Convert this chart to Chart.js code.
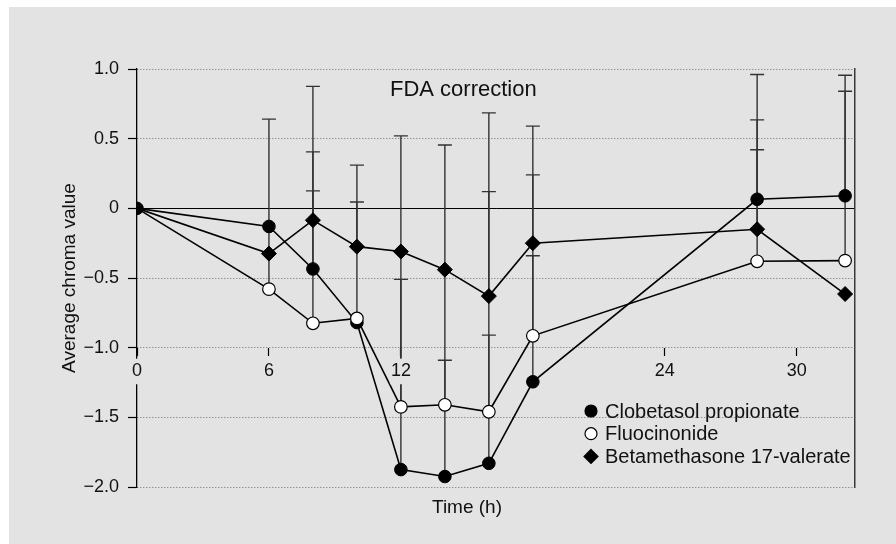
<!DOCTYPE html>
<html>
<head>
<meta charset="utf-8">
<script src="https://cdn.jsdelivr.net/npm/chart.js@4.4.1/dist/chart.umd.min.js"></script>
<style>
  body { margin: 0; background: #fff; }
  #wrap { position: absolute; left: 9px; top: 7px; width: 887px; height: 537px; background: #e3e3e3; }
</style>
</head>
<body>
<div id="wrap"><canvas id="chroma"></canvas></div>
<script>
var hours = [0, 6, 8, 10, 12, 14, 16, 18, 28.2, 32.2];
var seriesNames = ['Clobetasol propionate', 'Fluocinonide', 'Betamethasone 17-valerate'];
var clobetasol = [0, -0.13, -0.435, -0.82, -1.875, -1.925, -1.83, -1.245, 0.065, 0.09];
var fluocinonide = [0, -0.58, -0.825, -0.79, -1.425, -1.41, -1.46, -0.915, -0.38, -0.375];
var betamethasone = [0, -0.325, -0.085, -0.275, -0.31, -0.44, -0.63, -0.25, -0.15, -0.615];
// value at the cap of each error bar (null = no bar)
var clobetasolTop = [null, null, 0.875, 0.31, 0.52, 0.455, 0.685, 0.59, 0.96, 0.955];
var fluocinonideTop = [null, 0.64, 0.125, null, -0.51, -1.09, -0.91, -0.34, 0.42, 0.84];
var betamethasoneTop = [null, null, 0.405, 0.045, null, null, 0.12, 0.24, 0.635, null];
var xTicks = [0, 6, 12, 24, 30];
var xTickLabels = ['0', '6', '12', '24', '30'];
var yTicks = [-2, -1.5, -1, -0.5, 0, 0.5, 1];
var yTickLabels = ['\u22122.0', '\u22121.5', '\u22121.0', '\u22120.5', '0', '0.5', '1.0'];

var FONT = 'Liberation Sans';
var BG = '#e3e3e3';
var errorTops = [clobetasolTop, fluocinonideTop, betamethasoneTop];

function points(vals) {
  return hours.map(function (h, i) { return {x: h, y: vals[i]}; });
}

function marker(ctx, style, fill, x, y, r) {
  ctx.beginPath();
  if (style === 'rectRot') {
    ctx.moveTo(x, y - r); ctx.lineTo(x + r, y); ctx.lineTo(x, y + r); ctx.lineTo(x - r, y);
    ctx.closePath();
  } else {
    ctx.arc(x, y, r, 0, Math.PI * 2);
  }
  ctx.fillStyle = fill;
  ctx.fill();
  ctx.lineWidth = 1.2;
  ctx.strokeStyle = '#000';
  ctx.stroke();
}

var extras = {
  id: 'extras',
  beforeDatasetsDraw: function (chart) {
    var ctx = chart.ctx, xs = chart.scales.x, ys = chart.scales.y;
    ctx.save();
    ctx.strokeStyle = '#333';
    ctx.lineWidth = 1.4;
    errorTops.forEach(function (tops, d) {
      var vals = chart.data.datasets[d].data;
      tops.forEach(function (t, i) {
        if (t === null) return;
        var px = xs.getPixelForValue(hours[i]);
        var y0 = ys.getPixelForValue(vals[i].y);
        var y1 = ys.getPixelForValue(t);
        ctx.beginPath();
        ctx.moveTo(px, y0); ctx.lineTo(px, y1);
        ctx.moveTo(px - 7, y1); ctx.lineTo(px + 7, y1);
        ctx.stroke();
      });
    });
    ctx.restore();
  },
  afterDraw: function (chart) {
    var ctx = chart.ctx, a = chart.chartArea;
    ctx.save();
    ctx.fillStyle = '#111';
    ctx.textBaseline = 'middle';
    ctx.font = '22px "' + FONT + '"';
    ctx.textAlign = 'left';
    ctx.fillText('FDA correction', a.left + 253, a.top + 21);
    ctx.font = '19px "' + FONT + '"';
    ctx.textAlign = 'center';
    ctx.fillText('Time (h)', a.left + 330, a.bottom + 21);

    // legend
    var styles = [['circle', '#000'], ['circle', '#fff'], ['rectRot', '#000']];
    ctx.font = '20px "' + FONT + '"';
    ctx.textAlign = 'left';
    seriesNames.forEach(function (name, i) {
      var y = a.top + 342 + i * 22.7;
      marker(ctx, styles[i][0], styles[i][1], a.left + 454, y, styles[i][0] === 'rectRot' ? 7 : 6);
      ctx.fillStyle = '#111';
      ctx.fillText(name, a.left + 468, y + 1);
    });
    ctx.restore();
  }
};

var ctx = document.getElementById('chroma').getContext('2d');
var chart = new Chart(ctx, {
  type: 'line',
  data: {
    datasets: [{
      label: seriesNames[0],
      data: points(clobetasol),
      order: 1,
      borderColor: '#000',
      borderWidth: 1.6,
      pointStyle: 'circle',
      pointRadius: 6.3,
      pointBackgroundColor: '#000',
      pointBorderColor: '#000',
      pointBorderWidth: 1
    }, {
      label: seriesNames[1],
      data: points(fluocinonide),
      order: 0,
      borderColor: '#000',
      borderWidth: 1.6,
      pointStyle: 'circle',
      pointRadius: function (c) { return c.dataIndex === 0 ? 0 : 6.3; },
      pointBackgroundColor: '#fff',
      pointBorderColor: '#000',
      pointBorderWidth: 1.2
    }, {
      label: seriesNames[2],
      data: points(betamethasone),
      order: 2,
      borderColor: '#000',
      borderWidth: 1.6,
      pointStyle: 'rectRot',
      pointRadius: function (c) { return c.dataIndex === 0 ? 0 : 7.5; },
      pointBackgroundColor: '#000',
      pointBorderColor: '#000',
      pointBorderWidth: 1
    }]
  },
  options: {
    responsive: true,
    maintainAspectRatio: false,
    animation: false,
    layout: { padding: { left: 0, right: 0, top: 62, bottom: 57 } },
    scales: {
      x: {
        type: 'linear',
        min: 0,
        max: 32.65,
        position: { y: -1 },
        afterFit: function (s) { s.height = 0; },
        afterBuildTicks: function (s) {
          s.ticks = xTicks.map(function (v) { return {value: v}; });
        },
        ticks: {
          z: 1,
          padding: 5,
          maxRotation: 0,
          color: '#111',
          font: { family: FONT, size: 18 },
          showLabelBackdrop: true,
          backdropColor: BG,
          backdropPadding: { top: 2, bottom: 2, left: 1, right: 1 },
          callback: function (v, i) { return xTickLabels[i]; }
        },
        grid: { drawOnChartArea: false, tickLength: 8, tickColor: '#000', tickWidth: 1.2 },
        border: { display: false }
      },
      y: {
        position: 'left',
        min: -2,
        max: 1,
        afterFit: function (s) { s.width = 128; },
        afterBuildTicks: function (s) {
          s.ticks = yTicks.map(function (v) { return {value: v}; });
        },
        ticks: {
          padding: 9,
          color: '#111',
          font: { family: FONT, size: 18 },
          callback: function (v, i) { return yTickLabels[i]; }
        },
        grid: {
          color: function (c) { return c.tick && c.tick.value === 0 ? '#000' : '#6e6e6e'; },
          tickColor: '#000',
          tickLength: 9,
          tickWidth: 1.2,
          lineWidth: 1
        },
        border: {
          color: '#000',
          width: 1.3,
          dash: function (c) { return c.type === 'tick' && c.tick.value !== 0 ? [1, 2] : []; }
        },
        title: {
          display: true,
          text: 'Average chroma value',
          color: '#111',
          font: { family: FONT, size: 19 },
          padding: { top: 49, bottom: 0 }
        }
      },
      y2: {
        position: 'right',
        min: 0,
        max: 1,
        afterFit: function (s) { s.width = 41; },
        ticks: { display: false },
        grid: { drawOnChartArea: false, drawTicks: false },
        border: { color: '#3a3a3a', width: 1.5 }
      }
    },
    plugins: {
      legend: { display: false },
      tooltip: { enabled: false }
    }
  },
  plugins: [extras]
});
</script>
</body>
</html>
